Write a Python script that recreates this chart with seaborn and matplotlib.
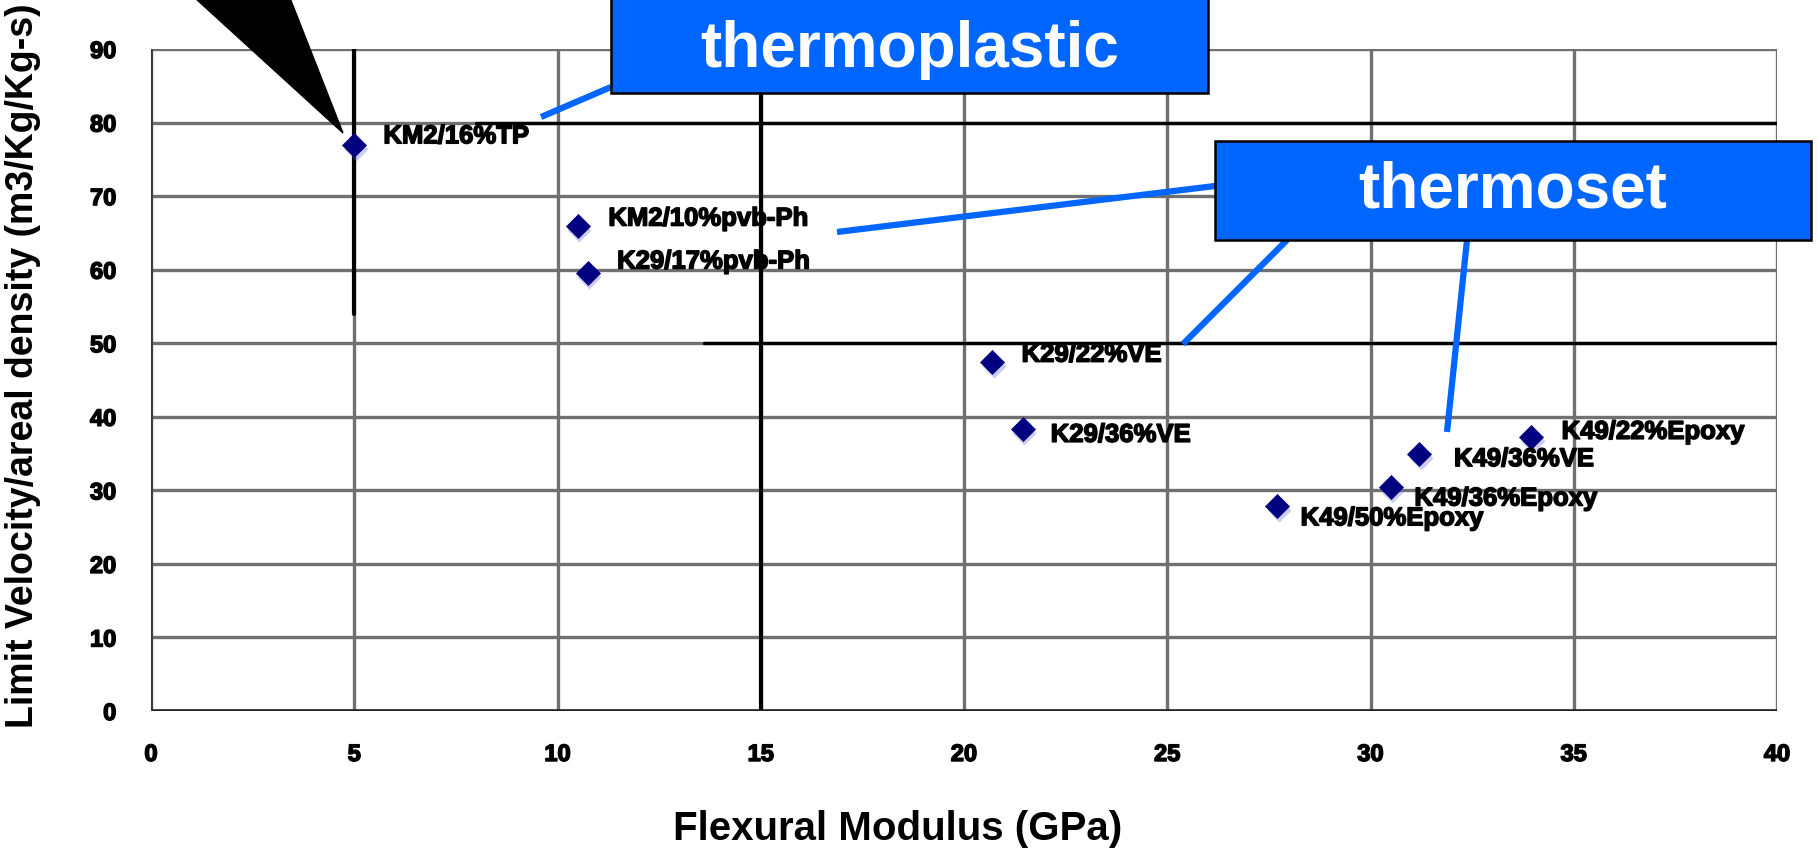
import numpy as np
import pandas as pd
import matplotlib
matplotlib.use("Agg")
import matplotlib.pyplot as plt
import seaborn as sns
from matplotlib import font_manager
from matplotlib.patches import Polygon, Rectangle
from matplotlib.lines import Line2D
import matplotlib.transforms as mtransforms
import matplotlib.patheffects as pe

# ---------------- data ----------------
materials = ["KM2/16%TP", "KM2/10%pvb-Ph", "K29/17%pvb-Ph", "K29/22%VE", "K29/36%VE",
             "K49/22%Epoxy", "K49/36%VE", "K49/36%Epoxy", "K49/50%Epoxy"]
flexural_modulus = [5.0, 10.5, 10.75, 20.7, 21.45, 33.95, 31.2, 30.5, 27.7]
limit_velocity = [77.0, 66.0, 59.6, 47.5, 38.3, 37.2, 35.0, 30.4, 27.9]
x_ticks = [0, 5, 10, 15, 20, 25, 30, 35, 40]
y_ticks = [0, 10, 20, 30, 40, 50, 60, 70, 80, 90]
x_title = "Flexural Modulus (GPa)"
y_title = "Limit Velocity/areal density (m3/Kg/Kg-s)"
callout_texts = ["thermoplastic", "thermoset"]

# label offsets in points (layout only)
label_offsets = [(21, 6), (22, 5), (21, 8), (21, 5), (20, -4), (22, 4), (25, -4), (17, -8), (17, -9)]

df = pd.DataFrame({"material": materials, "modulus": flexural_modulus, "velocity": limit_velocity})

# ---------------- style ----------------
sns.set_style("white")
plt.rcParams["font.family"] = ["Liberation Sans", "DejaVu Sans"]
FAM = ["Liberation Sans", "DejaVu Sans"]
THICK = [pe.withStroke(linewidth=1.1, foreground="black")]

W, H = 1818, 850
fig = plt.figure(figsize=(W / 100, H / 100), dpi=100)
ax = fig.add_axes([151 / W, 1 - 711 / H, 1626 / W, 662 / H])

BLUE = "#0066FF"
NAVY = "#000080"

# shadow (blur-like ghost) of markers
shadow = mtransforms.offset_copy(ax.transData, fig=fig, x=1.5, y=-4, units="dots")
ax.scatter(df["modulus"], df["velocity"], marker="D", s=150, color="#6f6fd0",
           alpha=0.35, linewidths=0, transform=shadow, zorder=4)
sns.scatterplot(data=df, x="modulus", y="velocity", marker="D", s=150, color=NAVY,
                edgecolor=NAVY, linewidth=0.5, ax=ax, zorder=5)

for name, xv, yv, (dx, dy) in zip(materials, flexural_modulus, limit_velocity, label_offsets):
    ax.annotate(name, (xv, yv), xytext=(dx, dy), textcoords="offset points",
                ha="left", va="center", fontsize=18.5, fontweight="bold",
                family=FAM, color="black", zorder=6, path_effects=THICK)

ax.set_xlim(x_ticks[0], x_ticks[-1])
ax.set_ylim(y_ticks[0], y_ticks[-1])
ax.set_xticks(x_ticks)
ax.set_yticks(y_ticks)
ax.grid(True, color="#707070", linewidth=2.4)
ax.set_axisbelow(True)
for sp in ax.spines.values():
    sp.set_visible(False)

# emphasised darker gridlines (as in the original rendering)
ax.axvline(x_ticks[1], ymin=0.6, ymax=1.0, color="black", lw=3, zorder=1.5)
ax.axvline(x_ticks[3], color="black", lw=3, zorder=1.5)
ax.axhline(y_ticks[8], xmin=0.2, xmax=1.0, color="black", lw=2.4, zorder=1.5)
ax.axhline(y_ticks[5], xmin=0.34, xmax=1.0, color="black", lw=2.4, zorder=1.5)
ax.axhline(y_ticks[0], color="#222222", lw=2.6, zorder=1.5)
ax.axvline(x_ticks[0], color="#333333", lw=2.6, zorder=1.5)

ax.tick_params(axis="both", which="both", direction="out", length=9, width=2,
               color="#707070", labelsize=17, labelcolor="black")
ax.tick_params(axis="y", pad=16)
ax.tick_params(axis="x", pad=14)
for lab in ax.get_xticklabels() + ax.get_yticklabels():
    lab.set_fontweight("bold")
    lab.set_family(FAM)
    lab.set_path_effects(THICK)

ax.set_xlabel(x_title, fontsize=29, fontweight="bold", family=FAM, color="black")
ax.set_ylabel(y_title, fontsize=27, fontweight="bold", family=FAM, color="black")
ax.xaxis.set_label_coords(0.459, -0.178)
ax.xaxis.label.set_va("center")
ax.yaxis.set_label_coords(-0.0787, 0.521)
ax.yaxis.label.set_va("center")


def fp(x, y):
    return (x / W, 1 - y / H)


# black pointer wedge
fig.add_artist(Polygon([fp(195, -2), fp(290, -2), fp(343, 133)], closed=True,
                       transform=fig.transFigure, facecolor="black", edgecolor="black",
                       zorder=7))

# connector lines
connectors = [((611, 87), (541, 117)),
              ((1215, 186), (837, 232)),
              ((1287, 240), (1183, 344)),
              ((1467, 240), (1447, 432))]
for a, b in connectors:
    (x0, y0), (x1, y1) = fp(*a), fp(*b)
    fig.add_artist(Line2D([x0, x1], [y0, y1], transform=fig.transFigure, color=BLUE,
                          lw=4.5, solid_capstyle="butt", zorder=7))

# callout boxes
boxes = [(611, -20, 1208, 93), (1215, 141, 1811, 240)]
for (l, t, r, b), txt in zip(boxes, callout_texts):
    x0, y0 = fp(l, b)
    fig.add_artist(Rectangle((x0, y0), (r - l) / W, (b - t) / H, transform=fig.transFigure,
                             facecolor=BLUE, edgecolor="black", lw=1.8, zorder=8))
    cy = (max(t, 0) + b) / 2 + (4 if t < 0 else 0)
    cx, cyy = fp((l + r) / 2, cy)
    fig.text(cx, cyy, txt, ha="center", va="center", color="white", fontsize=46,
             fontweight="bold", family=FAM, zorder=9)

fig.savefig("out.png", dpi=100)
